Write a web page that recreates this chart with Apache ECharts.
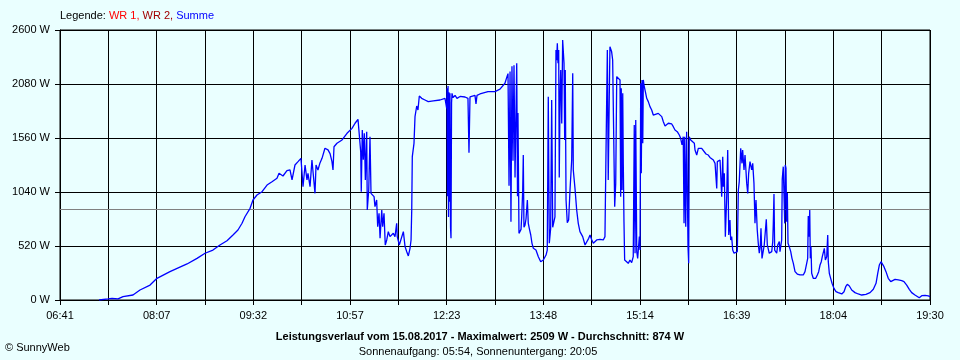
<!DOCTYPE html>
<html><head><meta charset="utf-8">
<script src="https://cdn.jsdelivr.net/npm/echarts@6/dist/echarts.min.js"></script>
<style>html,body{margin:0;padding:0;background:#EAFFFF}#c{width:960px;height:360px}</style>
</head><body><div id="c"></div>
<script>
// Axis definition
const startTime = "06:41";
const endTime = "19:30";
const tickLabels = ["06:41","08:07","09:32","10:57","12:23","13:48","15:14","16:39","18:04","19:30"];
const yMax = 2600, yStep = 520;
const averageW = 874;
const titleText = "Leistungsverlauf vom 15.08.2017 - Maximalwert: 2509 W - Durchschnitt: 874 W";
const subText = "Sonnenaufgang: 05:54, Sonnenuntergang: 20:05";

// Readings: [minute of day, power in W]
const morning = [[435.5,0],[443.4,10],[447.0,15],[452.3,10],[456.7,32],[465.5,48],[471.7,96],[480.6,144],[486.7,209],[498.2,273],[513.3,347],[522.1,401],[529.2,450],[536.2,481],[542.4,530],[548.6,571],[553.9,626],[558.3,674],[561.9,739],[564.5,802],[569.0,883],[571.6,963],[575.1,1011],[579.6,1043],[584.0,1107],[588.4,1139],[592.8,1172],[594.6,1220],[598.1,1194],[601.6,1245],[604.3,1252],[606.1,1156],[608.7,1300],[611.4,1332],[614.0,1364],[614.9,1380],[615.8,1091],[617.6,1300],[619.3,1156],[620.2,1220],[622.0,1091],[623.7,1348],[624.6,1330],[626.4,1027],[627.3,1300],[629.0,1252],[630.8,1320],[632.6,1364],[633.5,1348],[635.2,1461],[637.9,1445],[639.7,1410],[641.4,1332],[642.3,1252],[643.2,1476],[645.8,1509],[650.3,1541],[654.7,1605],[659.1,1653],[661.8,1702],[664.4,1740],[665.6,1750]];
const lateMorning = [[666.8,1428],[667.3,1043],[668.2,1637],[669.1,1350],[670.0,1605],[670.9,1156],[672.1,1621],[672.6,867],[673.9,1060],[675.0,1573],[675.9,1027],[677.4,1043],[678.6,995],[679.4,899],[680.9,963],[681.8,706],[683.0,835],[683.9,594],[685.4,867],[686.2,706],[687.4,835],[688.5,530],[689.8,578],[691.2,658],[692.7,610],[694.2,594],[695.6,642],[697.1,610],[698.6,739],[699.1,610],[700.9,530],[702.4,546],[704.5,658],[706.0,514],[707.5,465],[708.9,424],[710.4,498],[711.3,578],[711.9,867],[712.4,1380],[713.9,1509],[714.8,1766],[716.3,1868],[717.4,1830],[718.6,1964],[720.7,1942],[723.6,1926],[726.5,1910],[731.0,1918],[736.9,1926],[741.3,1942],[742.8,1846]];
const noon = [[743.1,2038],[743.5,1000],[744.0,2060],[744.4,800],[744.8,2000],[745.3,947],[745.7,1990],[746.2,700],[746.6,594],[747.1,1900],[747.5,1990],[748.4,1950],[750.2,1970],[751.9,1942],[754.6,1960],[759.0,1955],[761.6,1942],[762.5,1418],[763.4,1955],[767.8,1970],[768.7,1888],[769.6,1970],[772.2,1984],[779.3,2006],[785.5,2006],[789.9,2030],[794.3,2087],[796.1,2151],[797.0,2180]];
const earlyAfternoon = [[797.9,1100],[798.8,2200],[799.6,754],[800.5,2250],[801.4,1340],[802.3,2260],[803.2,1180],[804.7,2279],[805.4,1000],[805.8,1800],[806.7,642],[807.6,626],[808.5,680],[809.1,800],[810.0,1059],[810.5,1396],[811.1,700],[812.0,720],[812.9,780],[814.1,963],[814.9,740],[815.8,690],[817.1,626],[818.2,546],[819.4,498],[821.7,482],[823.8,417],[825.9,369],[828.2,385],[830.6,433],[831.7,481],[832.6,1958],[833.5,546],[834.7,690],[835.6,1926],[836.5,700],[837.6,690],[838.5,800],[839.4,2407],[840.0,2310],[840.6,2472],[841.2,2280],[841.8,2407],[842.3,1180],[843.0,1958],[843.6,2215],[844.5,1700],[845.3,2504],[845.9,2509],[846.5,2280],[847.1,1540],[847.6,2215],[848.3,963],[849.4,744],[850.6,770],[851.8,1059],[853.3,1350],[854.2,2183],[854.7,1252],[856.2,1075],[857.7,867],[859.1,738],[860.6,658],[863.0,610],[865.1,530],[866.6,546],[868.3,594],[869.5,626],[871.0,580],[872.4,546],[873.9,562],[875.4,578],[878.3,584],[881.2,578],[882.7,610]];
const afternoon = [[883.6,1412],[884.8,2407],[885.6,1156],[886.5,1950],[887.1,2439],[888.6,2390],[889.5,2311],[890.7,2311],[891.3,899],[892.2,1120],[893.1,2151],[894.5,2135],[896.0,2119],[896.6,995],[897.1,2040],[897.8,1060],[898.4,1990],[898.9,1310],[899.5,754],[900.1,385],[901.3,369],[903.3,353],[904.8,385],[906.3,360],[907.7,417],[908.6,1685],[909.3,450],[909.9,1733],[910.8,466],[911.6,401],[912.5,385],[913.1,610],[913.7,481],[914.3,2087],[914.8,1220],[915.4,2119],[916.1,1510],[916.6,2119],[917.2,2070],[918.4,2006],[919.6,1942],[921.0,1910],[922.5,1862],[924.0,1830],[925.4,1781],[926.9,1800],[929.8,1797],[932.9,1766],[934.3,1717],[935.8,1676],[938.7,1702],[941.7,1695],[943.1,1669],[944.6,1637],[946.6,1621],[948.4,1589],[949.6,1557],[950.8,1493],[951.9,1573],[952.6,739],[953.2,1573],[954.1,706],[954.9,1621],[955.5,1100],[956.1,514],[956.7,353],[957.2,1573],[958.5,1541],[960.2,1557],[961.7,1509],[962.3,1444],[963.8,1396],[965.2,1461],[966.7,1444],[968.2,1461],[969.6,1444],[972.0,1406],[974.0,1396],[975.5,1373],[978.5,1348],[980.0,1316],[981.5,1075],[982.0,1332],[984.4,1348],[985.3,1364],[985.9,995],[986.8,1380],[987.3,1091],[988.2,1220],[989.1,610],[990.3,995],[991.2,1444],[992.1,626],[993.2,770],[993.8,578],[994.7,610],[995.6,481],[996.8,450],[998.5,440],[999.7,466]];
const lateAfternoon = [[1000.6,1059],[1001.4,1140],[1002.7,1461],[1003.8,1316],[1004.4,1444],[1005.6,1252],[1006.5,1396],[1008.0,1123],[1008.9,1027],[1009.7,1220],[1010.9,1332],[1012.4,1252],[1013.3,1316],[1014.4,1123],[1015.3,739],[1016.2,963],[1017.3,674],[1018.2,546],[1019.1,450],[1020.0,514],[1020.6,690],[1021.5,401],[1022.6,385],[1023.5,530],[1024.4,546],[1025.3,777],[1026.2,530],[1027.1,546],[1027.9,450],[1030.1,466],[1031.0,562],[1031.5,739],[1032.1,1020],[1032.7,481],[1034.5,450],[1035.4,530],[1036.3,514],[1036.8,562],[1037.4,466],[1038.3,450],[1038.9,578],[1039.4,1162],[1040.3,1284],[1041.0,1300],[1041.6,738],[1042.1,1300],[1042.7,1270],[1043.3,754],[1043.9,1030],[1044.5,546],[1045.6,514],[1046.9,466],[1048.0,401],[1049.2,353],[1050.7,273],[1052.7,250],[1055.1,241],[1058.0,241],[1059.5,273],[1061.0,353],[1061.9,401],[1062.4,809],[1063.0,610],[1063.7,867],[1064.2,401],[1064.8,514],[1065.4,257],[1066.8,209],[1069.0,209],[1070.4,241],[1071.6,273],[1072.8,337],[1073.9,369],[1074.8,417],[1075.7,401],[1076.6,498],[1077.5,385],[1078.7,417],[1079.6,626],[1080.1,369],[1081.0,257]];
const evening = [[1082.2,209],[1083.4,161],[1085.1,112],[1086.9,80],[1088.9,71],[1092.0,58],[1094.0,80],[1095.5,128],[1096.9,151],[1098.7,135],[1100.8,96],[1103.7,71],[1106.6,58],[1109.6,48],[1113.4,55],[1117.0,71],[1119.9,103],[1122.3,161],[1123.8,257],[1125.2,337],[1126.7,369],[1128.2,360],[1129.3,321],[1131.1,273],[1133.1,209],[1135.3,177],[1137.0,177],[1139.1,199],[1142.0,193],[1145.0,186],[1147.0,177],[1149.4,144],[1151.7,103],[1153.8,71],[1156.7,48],[1160.5,22],[1162.7,42],[1165.6,45],[1168.5,39],[1170.0,32]];

function toMin(s){const p=s.split(':');return (+p[0])*60+(+p[1]);}
const startMin = toMin(startTime), endMin = toMin(endTime);
const span = endMin - startMin;
const xInterval = span / 18;
const labelStep = span / (tickLabels.length - 1);
const readings = [].concat(morning, lateMorning, noon, earlyAfternoon, afternoon, lateAfternoon, evening);
const seriesData = readings.map(r => [r[0] - startMin, r[1]]);

const font = 'Liberation Sans, Arial, sans-serif';
const chart = echarts.init(document.getElementById('c'), null, {renderer:'canvas'});
chart.setOption({
  animation:false,
  backgroundColor:'#EAFFFF',
  grid:{left:60,right:30,top:30,bottom:60,show:true,borderColor:'#000',borderWidth:1,backgroundColor:'transparent'},
  xAxis:{
    type:'value', min:0, max:span, interval:xInterval,
    axisLine:{lineStyle:{color:'#000',width:1}},
    axisTick:{show:true,length:5,inside:false,lineStyle:{color:'#000'}},
    splitLine:{show:true,lineStyle:{color:'#000',width:1}},
    axisLabel:{
      color:'#000', fontFamily:font, fontSize:11, margin:10,
      showMinLabel:true, showMaxLabel:true, hideOverlap:false,
      formatter:function(v){
        const k = v / labelStep; const r = Math.round(k);
        return Math.abs(k - r) < 0.02 ? (tickLabels[r] || '') : '';
      }
    }
  },
  yAxis:{
    type:'value', min:0, max:yMax, interval:yStep,
    axisLine:{show:true,lineStyle:{color:'#000',width:1}},
    axisTick:{show:true,length:5,inside:false,lineStyle:{color:'#000'}},
    splitLine:{show:true,lineStyle:{color:'#000',width:1}},
    axisLabel:{color:'#000',fontFamily:font,fontSize:11,margin:10,formatter:function(v){return String(Math.round(v))+' W';}}
  },
  series:[{
    type:'line', data:seriesData, showSymbol:false, symbol:'none',
    lineStyle:{color:'#0000FF',width:1.3}, z:3,
    markLine:{silent:true,symbol:['none','none'],label:{show:false},
      lineStyle:{color:'#808080',type:'solid',width:1},
      data:[{yAxis:averageW}], z:2}
  }],
  graphic:[
    {type:'text',left:60,top:10,style:{
      text:'{k|Legende: }{a|WR 1, }{b|WR 2, }{s|Summe}',
      font:'11px '+font,
      rich:{k:{fill:'#000',fontFamily:font,fontSize:11},a:{fill:'#FF0000',fontFamily:font,fontSize:11},b:{fill:'#A00000',fontFamily:font,fontSize:11},s:{fill:'#0000FF',fontFamily:font,fontSize:11}}
    }},
    {type:'text',x:480,y:337,style:{text:titleText,fill:'#000',font:'bold 11px '+font,textAlign:'center',textVerticalAlign:'middle'}},
    {type:'text',x:478,y:352,style:{text:subText,fill:'#000',font:'11px '+font,textAlign:'center',textVerticalAlign:'middle'}},
    {type:'text',x:5,y:348,style:{text:'\u00A9 SunnyWeb',fill:'#000',font:'11px '+font,textAlign:'left',textVerticalAlign:'middle'}}
  ]
});
</script>
</body></html>
